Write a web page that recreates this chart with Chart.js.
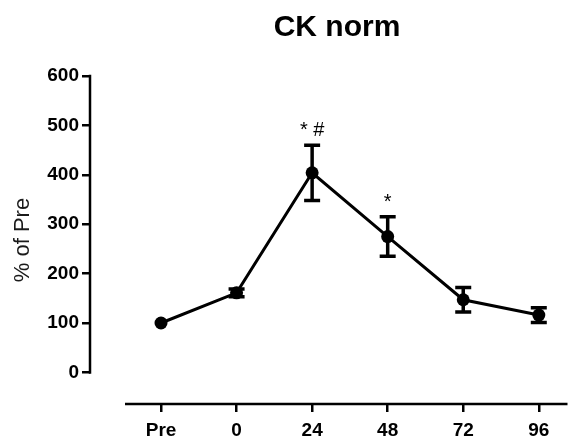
<!DOCTYPE html>
<html>
<head>
<meta charset="utf-8">
<script src="https://cdn.jsdelivr.net/npm/chart.js@4/dist/chart.umd.min.js"></script>
<style>
  html, body { margin: 0; padding: 0; background: #fff; }
  #wrap { width: 574px; height: 439px; }
</style>
</head>
<body>
<div id="wrap"><canvas id="c" width="574" height="439"></canvas></div>
<script>
// Time points (hours after exercise) and CK normalised to the Pre value
const timepoints = ['Pre', '0', '24', '48', '72', '96'];
const meanPct = [100, 161, 404, 275, 147, 116];
const semPct = [0, 8, 56, 40, 25, 15];
const sigMarks = ['', '', '* #', '*', '', ''];
const yTickValues = [0, 100, 200, 300, 400, 500, 600];

const FONT = "'Liberation Sans', Arial, sans-serif";

// Vertical error bars with caps, plus significance marks above them
const errorBars = {
  id: 'errorBars',
  afterDatasetsDraw(chart) {
    const { ctx, scales: { x, y } } = chart;
    ctx.save();
    ctx.strokeStyle = '#000';
    ctx.fillStyle = '#000';
    ctx.lineCap = 'butt';
    meanPct.forEach((m, i) => {
      const px = x.getPixelForValue(i);
      const top = y.getPixelForValue(m + semPct[i]);
      const bot = y.getPixelForValue(m - semPct[i]);
      if (semPct[i] > 0) {
        ctx.lineWidth = 3.5;
        ctx.beginPath();
        ctx.moveTo(px, top);
        ctx.lineTo(px, bot);
        ctx.stroke();
        ctx.beginPath();
        ctx.moveTo(px - 8, top);
        ctx.lineTo(px + 8, top);
        ctx.moveTo(px - 8, bot);
        ctx.lineTo(px + 8, bot);
        ctx.stroke();
      }
      if (sigMarks[i]) {
        ctx.font = '20px ' + FONT;
        ctx.textAlign = 'center';
        ctx.textBaseline = 'alphabetic';
        ctx.fillText(sigMarks[i], px, top - 9);
      }
    });
    ctx.restore();
  }
};

// Detached axis lines: y from 0 to 600, x starting a little right of the y axis
const axisLines = {
  id: 'axisLines',
  afterLayout(chart) {
    // centre the title over the plotting region
    if (chart.titleBlock) chart.titleBlock.left = 100;
  },
  beforeDatasetsDraw(chart) {
    const { ctx, chartArea, scales: { y } } = chart;
    ctx.save();
    ctx.strokeStyle = '#000';
    ctx.lineWidth = 2.5;
    ctx.beginPath();
    ctx.moveTo(chartArea.left, y.getPixelForValue(yTickValues[0]) + 1.25);
    ctx.lineTo(chartArea.left, y.getPixelForValue(yTickValues[yTickValues.length - 1]) - 1.25);
    ctx.moveTo(chartArea.left + 35, chartArea.bottom);
    ctx.lineTo(chartArea.right, chartArea.bottom);
    ctx.stroke();
    ctx.restore();
  }
};

new Chart(document.getElementById('c'), {
  type: 'scatter',
  data: {
    datasets: [{
      data: meanPct.map((v, i) => ({ x: i, y: v })),
      showLine: true,
      borderColor: '#000',
      borderWidth: 3,
      backgroundColor: '#000',
      pointRadius: 6.5,
      pointHoverRadius: 6.5,
      pointBorderWidth: 0,
      tension: 0
    }]
  },
  options: {
    responsive: false,
    devicePixelRatio: 1,
    animation: false,
    layout: { padding: { left: 0, right: 0, top: 0, bottom: 0 } },
    plugins: {
      legend: { display: false },
      tooltip: { enabled: false },
      title: {
        display: true,
        text: 'CK norm',
        color: '#000',
        font: { family: FONT, size: 30, weight: 'bold' },
        padding: { top: 10, bottom: 30 }
      }
    },
    scales: {
      x: {
        type: 'linear',
        min: -0.94,
        max: 5.38,
        afterBuildTicks(scale) {
          scale.ticks = timepoints.map((_, i) => ({ value: i }));
        },
        afterFit(scale) { scale.height = 35; },
        ticks: {
          autoSkip: false,
          maxRotation: 0,
          padding: 7,
          color: '#000',
          font: { family: FONT, size: 19, weight: 'bold' },
          callback: (v) => timepoints[v]
        },
        grid: { drawOnChartArea: false, drawTicks: true, tickLength: 8, color: '#000', lineWidth: 2.5 },
        border: { display: false }
      },
      y: {
        min: -64,
        max: 600,
        afterBuildTicks(scale) {
          scale.ticks = yTickValues.map(v => ({ value: v }));
        },
        afterFit(scale) { scale.width = 90; },
        ticks: {
          padding: 3,
          color: '#000',
          font: { family: FONT, size: 19, weight: 'bold' }
        },
        grid: { drawOnChartArea: false, drawTicks: true, tickLength: 8, color: '#000', lineWidth: 2.5 },
        border: { display: false },
        title: {
          display: true,
          text: '% of Pre',
          color: '#1a1a1a',
          font: { family: FONT, size: 22, weight: 'normal' },
          padding: { top: 10, bottom: 0 }
        }
      }
    }
  },
  plugins: [axisLines, errorBars]
});
</script>
</body>
</html>
